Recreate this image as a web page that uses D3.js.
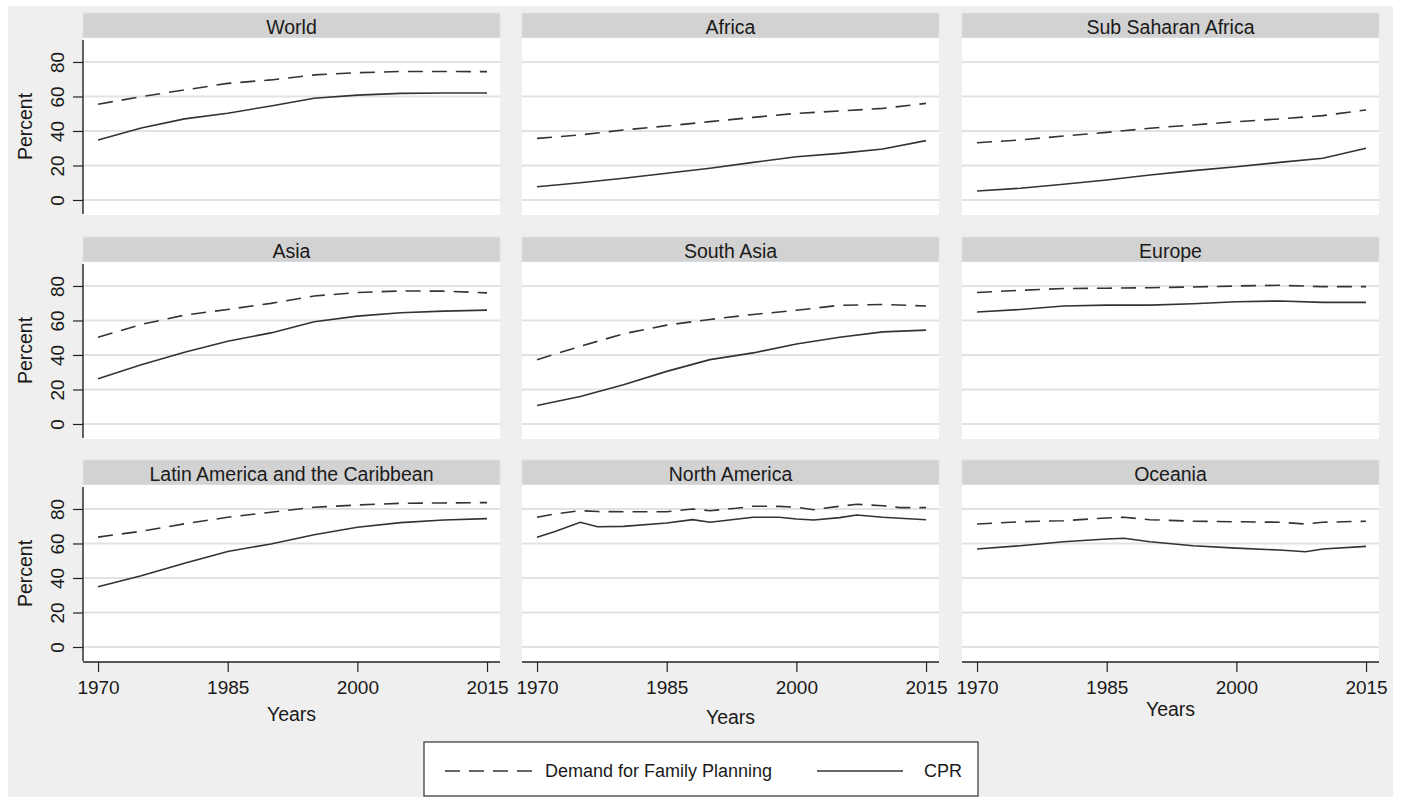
<!DOCTYPE html>
<html>
<head>
<meta charset="utf-8">
<script src="https://cdn.jsdelivr.net/npm/d3@7/dist/d3.min.js"></script>
<style>
  html, body { margin: 0; padding: 0; background: #ffffff; }
  svg { display: block; font-family: "Liberation Sans", Arial, sans-serif; }
</style>
</head>
<body>
<svg id="chart" width="1401" height="799"></svg>
<script>
// Contraceptive prevalence (CPR) and demand for family planning, by region, 1970-2015
const regions = [
  "World", "Africa", "Sub Saharan Africa",
  "Asia", "South Asia", "Europe",
  "Latin America and the Caribbean", "North America", "Oceania"
];

const fiveYearly = [1970, 1975, 1980, 1985, 1990, 1995, 2000, 2005, 2010, 2015];
const northAmericaYears = [1970, 1972, 1975, 1977, 1980, 1985, 1988, 1990, 1993, 1995, 1998, 2000, 2002, 2005, 2007, 2010, 2012, 2015];
const oceaniaYears = [1970, 1975, 1980, 1985, 1987, 1990, 1995, 2000, 2005, 2008, 2010, 2015];

const regionYears = [
  fiveYearly, fiveYearly, fiveYearly,
  fiveYearly, fiveYearly, fiveYearly,
  fiveYearly, northAmericaYears, oceaniaYears
];

// Demand for family planning (%)
const demand = [
  [55.5, 59.9, 63.8, 67.6, 69.6, 72.5, 73.8, 74.5, 74.5, 74.4],
  [35.7, 37.7, 40.6, 42.9, 45.4, 47.9, 50.2, 51.6, 53.1, 56.0],
  [33.2, 34.8, 37.1, 39.2, 41.6, 43.5, 45.4, 47.0, 48.9, 52.2],
  [50.3, 57.7, 63.1, 66.4, 69.9, 74.2, 76.2, 77.1, 77.0, 76.0],
  [37.3, 45.0, 52.3, 57.3, 60.6, 63.5, 65.9, 68.8, 69.3, 68.4],
  [76.2, 77.5, 78.5, 78.7, 79.0, 79.4, 80.0, 80.4, 79.6, 79.6],
  [63.7, 67.1, 71.4, 75.2, 78.1, 81.0, 82.3, 83.3, 83.5, 83.7],
  [75.2, 77.1, 79.0, 78.5, 78.4, 78.4, 80.0, 79.0, 80.4, 81.6, 81.5, 81.0, 79.6, 81.6, 82.7, 81.9, 80.8, 80.8],
  [71.3, 72.6, 73.2, 74.8, 75.2, 73.8, 72.9, 72.6, 72.3, 71.3, 72.3, 72.9]
];

// Contraceptive prevalence rate (%)
const cpr = [
  [34.8, 41.7, 47.0, 50.3, 54.5, 59.0, 60.8, 61.8, 62.0, 62.0],
  [7.7, 10.0, 12.6, 15.5, 18.4, 21.8, 25.1, 27.0, 29.6, 34.4],
  [5.2, 6.8, 9.1, 11.6, 14.5, 17.0, 19.3, 21.8, 24.2, 30.0],
  [26.2, 34.4, 41.6, 48.0, 52.8, 59.3, 62.5, 64.5, 65.4, 66.0],
  [10.7, 15.9, 22.7, 30.5, 37.3, 41.2, 46.4, 50.3, 53.4, 54.4],
  [64.9, 66.4, 68.4, 68.9, 68.9, 69.7, 70.9, 71.3, 70.5, 70.5],
  [34.9, 41.3, 48.6, 55.4, 59.7, 65.1, 69.4, 72.1, 73.6, 74.4],
  [63.6, 66.8, 72.3, 69.7, 69.9, 71.9, 73.8, 72.3, 74.0, 75.2, 75.2, 74.2, 73.6, 75.0, 76.5, 75.2, 74.6, 73.8],
  [56.8, 58.7, 61.0, 62.6, 63.0, 61.0, 58.7, 57.3, 56.2, 55.2, 56.8, 58.3]
];

const yTicks = [0, 20, 40, 60, 80];
const xTicks = [1970, 1985, 2000, 2015];
const seriesLabels = ["Demand for Family Planning", "CPR"];

// ---- layout ----
const svg = d3.select("#chart");
const colLeft = [83, 522, 962];
const rowTop = [13, 237, 460];
const plotW = 417, stripH = 25, plotH = 177;
const lineColor = "#333333";
const dashPattern = "15,9";
const titleFont = "19.5px";
const tickFont = "19px";
const legendFont = "18px";
const textColor = "#1a1a1a";

svg.append("rect").attr("x", 8).attr("y", 6).attr("width", 1385).attr("height", 791)
  .attr("fill", "#efefef");

const x = d3.scaleLinear().domain([1968.26, 2016.5]).range([0, plotW]);
const y = d3.scaleLinear().domain([-8.7, 93.9]).range([plotH, 0]);

const line = d3.line().x(d => x(d[0])).y(d => y(d[1]));

regions.forEach((name, i) => {
  const row = Math.floor(i / 3), col = i % 3;
  const g = svg.append("g")
    .attr("transform", `translate(${colLeft[col]},${rowTop[row]})`);

  // strip title
  g.append("rect").attr("width", plotW).attr("height", stripH)
    .attr("fill", "#d2d2d2").attr("stroke", "#dbe4e8").attr("stroke-width", 1);
  g.append("text").attr("x", plotW / 2).attr("y", stripH / 2 + 1)
    .attr("text-anchor", "middle").attr("dominant-baseline", "central")
    .style("font-size", titleFont).attr("fill", textColor).text(name);

  const p = g.append("g").attr("transform", `translate(0,${stripH})`);
  p.append("rect").attr("width", plotW).attr("height", plotH).attr("fill", "#ffffff");

  // horizontal grid
  p.selectAll("line.grid").data(yTicks).join("line")
    .attr("class", "grid")
    .attr("x1", 0).attr("x2", plotW)
    .attr("y1", d => y(d)).attr("y2", d => y(d))
    .attr("stroke", "#e2e2e2").attr("stroke-width", 2.2);

  const yrs = regionYears[i];
  const dem = yrs.map((yr, k) => [yr, demand[i][k]]);
  const cp = yrs.map((yr, k) => [yr, cpr[i][k]]);

  p.append("path").attr("d", line(dem)).attr("fill", "none")
    .attr("stroke", lineColor).attr("stroke-width", 1.6)
    .attr("stroke-dasharray", dashPattern);
  p.append("path").attr("d", line(cp)).attr("fill", "none")
    .attr("stroke", lineColor).attr("stroke-width", 1.6);

  // y axis on left column
  if (col === 0) {
    const ya = p.append("g").call(d3.axisLeft(y).tickValues(yTicks).tickSize(10).tickFormat(d3.format("d")));
    ya.select(".domain").attr("d", `M0,2V${plotH - 1}`).attr("stroke", "#222").attr("stroke-width", 1.4);
    ya.selectAll(".tick line").attr("stroke", "#222").attr("stroke-width", 1.2);
    ya.selectAll(".tick text")
      .attr("x", null).attr("dy", null)
      .attr("transform", "translate(-26,0) rotate(-90)")
      .attr("text-anchor", "middle").attr("dominant-baseline", "central")
      .style("font-size", tickFont).style("font-family", "Liberation Sans, Arial, sans-serif")
      .attr("fill", textColor);
    p.append("text")
      .attr("transform", `translate(-58,${plotH / 2}) rotate(-90)`)
      .attr("text-anchor", "middle").attr("dominant-baseline", "central")
      .style("font-size", titleFont).attr("fill", textColor).text("Percent");
  }

  // x axis on bottom row
  if (row === 2) {
    const xa = p.append("g").attr("transform", `translate(0,${plotH})`)
      .call(d3.axisBottom(x).tickValues(xTicks).tickSize(10).tickFormat(d3.format("d")));
    xa.select(".domain").attr("d", `M0,0H${plotW}`).attr("stroke", "#222").attr("stroke-width", 1.4);
    xa.selectAll(".tick line").attr("stroke", "#222").attr("stroke-width", 1.2);
    xa.selectAll(".tick text").attr("y", 19).attr("dy", "0.71em")
      .style("font-size", tickFont).style("font-family", "Liberation Sans, Arial, sans-serif")
      .attr("fill", textColor);
    const titleOffset = [52, 55, 47][col];
    p.append("text").attr("x", plotW / 2).attr("y", plotH + titleOffset)
      .attr("text-anchor", "middle").attr("dominant-baseline", "central")
      .style("font-size", titleFont).attr("fill", textColor).text("Years");
  }
});

// legend
const lg = svg.append("g");
lg.append("rect").attr("x", 424).attr("y", 742).attr("width", 554).attr("height", 54)
  .attr("fill", "#ffffff").attr("stroke", "#333").attr("stroke-width", 1.2);
lg.append("line").attr("x1", 445).attr("x2", 532).attr("y1", 771).attr("y2", 771)
  .attr("stroke", lineColor).attr("stroke-width", 1.6).attr("stroke-dasharray", dashPattern);
lg.append("text").attr("x", 545).attr("y", 771).attr("dominant-baseline", "central")
  .style("font-size", legendFont).attr("fill", textColor).text(seriesLabels[0]);
lg.append("line").attr("x1", 817).attr("x2", 903).attr("y1", 771).attr("y2", 771)
  .attr("stroke", lineColor).attr("stroke-width", 1.6);
lg.append("text").attr("x", 924).attr("y", 771).attr("dominant-baseline", "central")
  .style("font-size", legendFont).attr("fill", textColor).text(seriesLabels[1]);
</script>
</body>
</html>
